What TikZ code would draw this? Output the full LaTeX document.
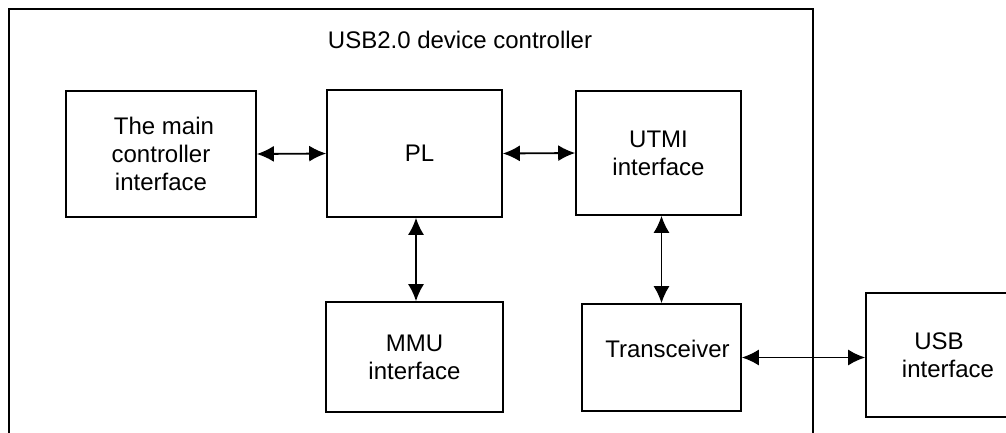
\documentclass[tikz,border=0pt]{standalone}
\usepackage{fontspec}
\setmainfont{Liberation Sans}
\usetikzlibrary{arrows.meta,positioning,calc}

\begin{document}
\begin{tikzpicture}[x=1pt, y=-1pt,
    blk/.style={draw, line width=1.6pt, align=center, inner sep=0pt,
                font=\fontsize{24}{28}\selectfont},
    link/.style={{Latex[length=17pt,width=16pt]}-{Latex[length=17pt,width=16pt]}, line width=1.8pt}]
                \clip (0,0) rectangle (1006,432);

                % Outer device controller box
                \node[blk, minimum width=804pt, minimum height=440pt] (ctrl) at (411,229) {};
                \node[anchor=base, font=\fontsize{24}{28}\selectfont] (title) at (460,48) {USB2.0 device controller};

                % Top row
                \node[blk, minimum width=190pt, minimum height=126pt] (main) at (161,154) {\hspace*{6pt}The main\\controller\\interface};
                \node[blk, minimum width=175pt, minimum height=127pt] (pl) at (414.5,153.5) {\hspace*{10pt}PL};
                \node[blk, minimum width=165pt, minimum height=124pt] (utmi) at (658.5,153) {UTMI\\interface};

                % Bottom row
                \node[blk, minimum width=177pt, minimum height=110pt] (mmu) at (414.5,357) {MMU\\interface};
                \node[blk, minimum width=159pt, minimum height=107pt] (trans) at (661.5,357.5) {\hspace*{12pt}\raisebox{0pt}[0pt][0pt]{Transceiver}};

                % External USB interface (runs off the right edge)
                \node[blk, minimum width=146pt, minimum height=124pt] (usb) at (939,355) {USB\\\hspace*{18pt}interface};

                % Links
                \draw[link] (main.east) -- (pl.west);
                \draw[link] (pl.east) -- (utmi.west);
                \draw[link] (pl.south -| 416,0) -- (mmu.north -| 416,0);
                \draw[link] (utmi.south -| trans.north) -- (trans.north);
                \draw[link] (trans.east) -- (trans.east -| usb.west);
\end{tikzpicture}
\end{document}
